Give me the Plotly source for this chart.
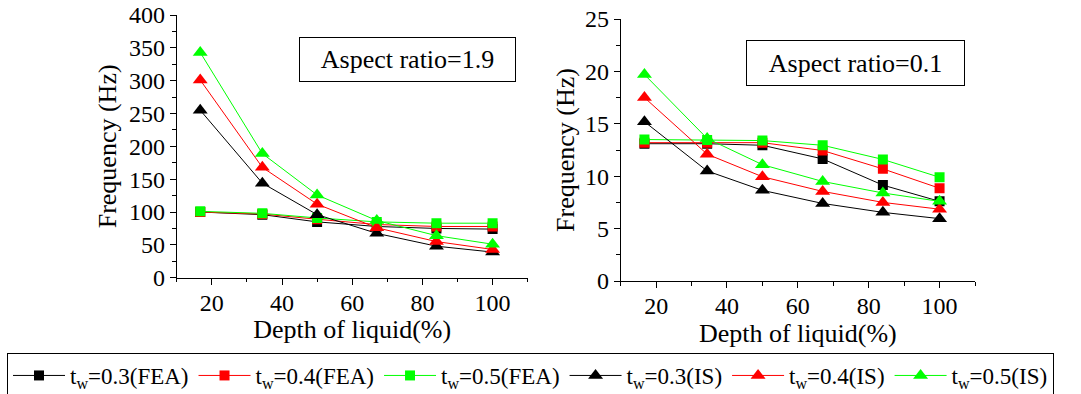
import plotly.graph_objects as go

depth = [16.7, 34.4, 50, 67, 84, 100]

# Aspect ratio = 1.9
ar19_fea_03 = [100, 96, 85, 78, 75, 74]
ar19_fea_04 = [100, 97, 89, 81, 78, 78]
ar19_fea_05 = [101, 98, 91, 85, 83, 83]
ar19_is_03 = [255, 144, 96, 67.5, 48, 39]
ar19_is_04 = [301, 168, 112, 76, 55, 43]
ar19_is_05 = [343, 189, 126, 87, 64, 51]

# Aspect ratio = 0.1
ar01_fea_03 = [13.1, 13.1, 12.95, 11.65, 9.15, 7.6]
ar01_fea_04 = [13.2, 13.2, 13.2, 12.45, 10.7, 8.85]
ar01_fea_05 = [13.5, 13.45, 13.4, 12.95, 11.6, 9.9]
ar01_is_03 = [15.2, 10.5, 8.65, 7.4, 6.55, 5.95]
ar01_is_04 = [17.5, 12.1, 9.95, 8.55, 7.5, 6.85]
ar01_is_05 = [19.7, 13.6, 11.1, 9.5, 8.4, 7.6]

legend_names = [
    "t<sub>w</sub>=0.3(FEA)", "t<sub>w</sub>=0.4(FEA)", "t<sub>w</sub>=0.5(FEA)",
    "t<sub>w</sub>=0.3(IS)", "t<sub>w</sub>=0.4(IS)", "t<sub>w</sub>=0.5(IS)",
]
colors = ["#000000", "#ff0000", "#00ff00", "#000000", "#ff0000", "#00ff00"]
symbols = ["square", "square", "square", "triangle-up", "triangle-up", "triangle-up"]
sizes = [10, 10, 10, 13, 13, 13]

left_series = [ar19_fea_03, ar19_fea_04, ar19_fea_05, ar19_is_03, ar19_is_04, ar19_is_05]
right_series = [ar01_fea_03, ar01_fea_04, ar01_fea_05, ar01_is_03, ar01_is_04, ar01_is_05]

FONT = "'Liberation Serif', 'Times New Roman', serif"

fig = go.Figure()
for i in range(6):
    fig.add_trace(go.Scatter(
        x=depth, y=left_series[i], mode="lines+markers", name=legend_names[i],
        line=dict(color=colors[i], width=1),
        marker=dict(symbol=symbols[i], size=sizes[i], color=colors[i]),
        xaxis="x", yaxis="y", showlegend=True,
    ))
for i in range(6):
    fig.add_trace(go.Scatter(
        x=depth, y=right_series[i], mode="lines+markers", name=legend_names[i],
        line=dict(color=colors[i], width=1),
        marker=dict(symbol=symbols[i], size=sizes[i], color=colors[i]),
        xaxis="x2", yaxis="y2", showlegend=False,
    ))

W, H = 1081, 394
ldom_x = [176.7 / W, 527.7 / W]
ldom_y = [1 - 277.7 / H, 1 - 15 / H]
rdom_x = [620.7 / W, 975 / W]
rdom_y = [1 - 281 / H, 1 - 19 / H]

tickfont = dict(family=FONT, size=24, color="black")
titlefont = dict(family=FONT, size=26, color="black")


def base_axis(**kw):
    d = dict(showline=True, linecolor="black", linewidth=1, showgrid=False,
             zeroline=False, ticks="outside", ticklen=6, tickwidth=1,
             tickcolor="black", tickfont=tickfont, automargin=False)
    d.update(kw)
    return d


def mirror_axis(**kw):
    d = dict(showline=True, linecolor="black", linewidth=1, showgrid=False,
             zeroline=False, ticks="inside", ticklen=6, tickwidth=1,
             tickcolor="black", showticklabels=False, automargin=False)
    d.update(kw)
    return d


xminor = dict(dtick=10, ticklen=3.5, ticks="outside", tickcolor="black")
xminor_in = dict(dtick=10, ticklen=3.5, ticks="inside", tickcolor="black")

fig.update_layout(
    width=W, height=H,
    margin=dict(l=0, r=0, t=0, b=0, autoexpand=False),
    paper_bgcolor="white", plot_bgcolor="white",
    font=dict(family=FONT, color="black"),
    xaxis=base_axis(domain=ldom_x, anchor="y", range=[10, 110], dtick=20, tick0=0,
                    minor=xminor, ticklabelstandoff=-3,
                    title=dict(text="Depth of liquid(%)", font=titlefont, standoff=4)),
    yaxis=base_axis(domain=ldom_y, anchor="x", range=[0, 400], dtick=50, tick0=0,
                    minor=dict(dtick=25, ticklen=3.5, ticks="outside", tickcolor="black"),
                    title=dict(text="Frequency (Hz)", font=titlefont, standoff=4)),
    xaxis3=mirror_axis(overlaying="x", side="top", anchor="y", domain=ldom_x,
                       range=[10, 110], dtick=20, tick0=0, minor=xminor_in),
    yaxis3=mirror_axis(overlaying="y", side="right", anchor="x", domain=ldom_y,
                       range=[0, 400], dtick=50, tick0=0,
                       minor=dict(dtick=25, ticklen=3.5, ticks="inside", tickcolor="black")),
    xaxis2=base_axis(domain=rdom_x, anchor="y2", range=[10, 110], dtick=20, tick0=0,
                     minor=xminor, ticklabelstandoff=-3,
                     title=dict(text="Depth of liquid(%)", font=titlefont, standoff=2)),
    yaxis2=base_axis(domain=rdom_y, anchor="x2", range=[0, 25], dtick=5, tick0=0,
                     minor=dict(dtick=2.5, ticklen=3.5, ticks="outside", tickcolor="black"),
                     title=dict(text="Frequency (Hz)", font=titlefont, standoff=2)),
    xaxis4=mirror_axis(overlaying="x2", side="top", anchor="y2", domain=rdom_x,
                       range=[10, 110], dtick=20, tick0=0, minor=xminor_in),
    yaxis4=mirror_axis(overlaying="y2", side="right", anchor="x2", domain=rdom_y,
                       range=[0, 25], dtick=5, tick0=0,
                       minor=dict(dtick=2.5, ticklen=3.5, ticks="inside", tickcolor="black")),
    legend=dict(
        orientation="h", x=7 / W, xanchor="left", y=1 - 353 / H, yanchor="top",
        bordercolor="black", borderwidth=1, bgcolor="white",
        font=dict(family=FONT, size=23, color="black"),
        itemwidth=52, tracegroupgap=0,
    ),
    annotations=[
        dict(text="Aspect ratio=1.9", xref="paper", yref="paper",
             x=407.5 / W, y=1 - 59.5 / H, xanchor="center", yanchor="middle",
             showarrow=False, width=215, height=43, bordercolor="black",
             borderwidth=1, borderpad=0, bgcolor="white",
             font=dict(family=FONT, size=26, color="black")),
        dict(text="Aspect ratio=0.1", xref="paper", yref="paper",
             x=855.4 / W, y=1 - 63 / H, xanchor="center", yanchor="middle",
             showarrow=False, width=217, height=44, bordercolor="black",
             borderwidth=1, borderpad=0, bgcolor="white",
             font=dict(family=FONT, size=26, color="black")),
    ],
)

fig.write_html("out.html")
